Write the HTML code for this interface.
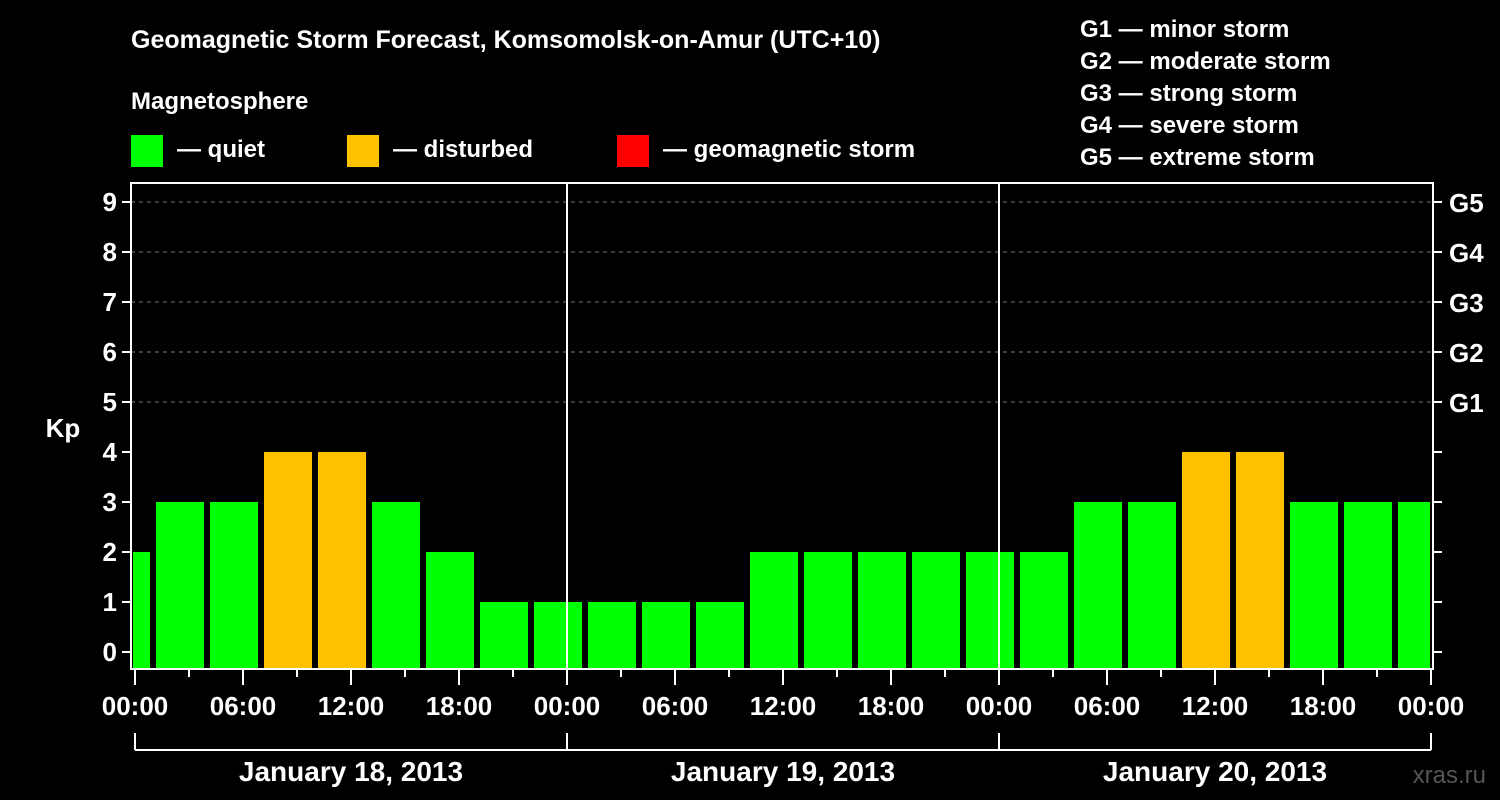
<!DOCTYPE html>
<html><head><meta charset="utf-8"><style>
html,body{margin:0;padding:0;background:#000;}
svg{display:block;font-family:"Liberation Sans",Arial,sans-serif;font-weight:bold;}
</style></head><body>
<svg id="chart" width="1500" height="800" viewBox="0 0 1500 800">
<rect x="0" y="0" width="1500" height="800" fill="#000"/>
<text x="131" y="48" fill="#fff" font-size="25">Geomagnetic Storm Forecast, Komsomolsk-on-Amur (UTC+10)</text>
<text x="131" y="109" fill="#fff" font-size="24">Magnetosphere</text>
<g><rect x="131" y="135" width="32" height="32" fill="#00ff00"/><text x="177" y="157" fill="#fff" font-size="24">— quiet</text></g>
<g><rect x="347" y="135" width="32" height="32" fill="#ffc000"/><text x="393" y="157" fill="#fff" font-size="24">— disturbed</text></g>
<g><rect x="617" y="135" width="32" height="32" fill="#ff0000"/><text x="663" y="157" fill="#fff" font-size="24">— geomagnetic storm</text></g>
<g fill="#fff" font-size="24">
<text x="1080" y="37">G1 — minor storm</text>
<text x="1080" y="69">G2 — moderate storm</text>
<text x="1080" y="101">G3 — strong storm</text>
<text x="1080" y="133">G4 — severe storm</text>
<text x="1080" y="165">G5 — extreme storm</text>
</g>
<g id="grid"></g>
<g id="bars"></g>
<g id="axes"></g>
<text x="63" y="437" fill="#fff" font-size="26" text-anchor="middle">Kp</text>
<text x="1486" y="783" fill="#555" font-size="24" text-anchor="end" font-weight="normal">xras.ru</text>
</svg>
<script>
const kpValues=[2,3,3,4,4,3,2,1,1,1,1,1,2,2,2,2,2,2,3,3,4,4,3,3,3];
const yTicks=[0,1,2,3,4,5,6,7,8,9];
const gLabels=["G1","G2","G3","G4","G5"];
const gLevels=[5,6,7,8,9];
const xTickLabels=["00:00","06:00","12:00","18:00","00:00","06:00","12:00","18:00","00:00","06:00","12:00","18:00","00:00"];
const dayLabels=["January 18, 2013","January 19, 2013","January 20, 2013"];
const NS="http://www.w3.org/2000/svg";
const L=131,R=1433,T=183,B=669;
const X0=135,PXH=18; // 18 px per hour
const y=v=>652-50*v;
const x=h=>X0+PXH*h;
function mk(tag,attrs,parent,text){const e=document.createElementNS(NS,tag);for(const k in attrs)e.setAttribute(k,attrs[k]);if(text!==undefined)e.textContent=text;parent.appendChild(e);return e;}
const grid=document.getElementById('grid'),bars=document.getElementById('bars'),axes=document.getElementById('axes');
gLevels.forEach(v=>{const l=mk('line',{x1:L,x2:R,y1:y(v),y2:y(v),stroke:'#777','stroke-dasharray':'4,4','stroke-width':1},grid);

});
kpValues.forEach((v,i)=>{let x1=x(i*3)-33,x2=x1+48;x1=Math.max(x1,L+2);x2=Math.min(x2,R-3);
const c=v>=5?'#ff0000':(v>=4?'#ffc000':'#00ff00');
const r=mk('rect',{x:x1,y:y(v),width:x2-x1,height:B-y(v),fill:c},bars);

});
[1,2].forEach(d=>{const l=mk('line',{x1:x(d*24),x2:x(d*24),y1:T,y2:B,stroke:'#fff','stroke-width':2},axes);

});
const fr=mk('rect',{x:L,y:T,width:R-L,height:B-T,fill:'none',stroke:'#fff','stroke-width':2},axes);


yTicks.forEach(v=>{mk('line',{x1:L-9,x2:L,y1:y(v),y2:y(v),stroke:'#fff','stroke-width':2},axes);
mk('line',{x1:R,x2:R+9,y1:y(v),y2:y(v),stroke:'#fff','stroke-width':2},axes);
const t=mk('text',{x:L-14,y:y(v)+9,fill:'#fff','font-size':26,'text-anchor':'end'},axes,String(v));

});
gLabels.forEach((g,i)=>{const t=mk('text',{x:R+16,y:y(gLevels[i])+10,fill:'#fff','font-size':26},axes,g);

});
for(let h=0;h<=72;h+=3){const major=h%6===0;mk('line',{x1:x(h),x2:x(h),y1:B,y2:B+(major?16:8),stroke:'#fff','stroke-width':2},axes);}
xTickLabels.forEach((s,i)=>{const t=mk('text',{x:x(i*6),y:715,fill:'#fff','font-size':26,'text-anchor':'middle'},axes,s);

});
mk('line',{x1:x(0),x2:x(72),y1:750,y2:750,stroke:'#fff','stroke-width':2},axes);
for(let d=0;d<=3;d++)mk('line',{x1:x(d*24),x2:x(d*24),y1:733,y2:750,stroke:'#fff','stroke-width':2},axes);
dayLabels.forEach((s,i)=>{const t=mk('text',{x:x(i*24+12),y:781,fill:'#fff','font-size':28,'text-anchor':'middle'},axes,s);

});
</script>
</body></html>
